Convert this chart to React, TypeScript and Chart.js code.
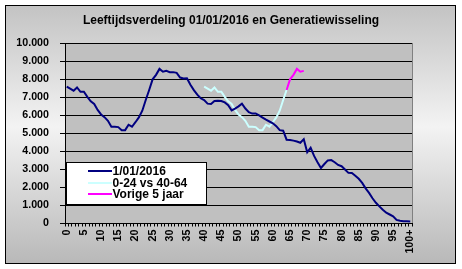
import React, { useEffect, useRef } from 'react';
import { Chart, registerables } from 'chart.js';

Chart.register(...registerables);

const TITLE = 'Leeftijdsverdeling 01/01/2016 en Generatiewisseling';

const AGE_LABELS: string[] = Array.from({ length: 100 }, (_, i) => String(i)).concat('100+');

const LABEL_2016 = '1/01/2016';
const POPULATION_2016 = [
  7590, 7480, 7370, 7550, 7310, 7310, 7030, 6780, 6630, 6300,
  6050, 5900, 5700, 5370, 5370, 5350, 5180, 5180, 5480, 5370,
  5620, 5890, 6260, 6850, 7410, 8000, 8250, 8580, 8420, 8470,
  8400, 8400, 8360, 8100, 8050, 8060, 7700, 7400, 7150, 6950,
  6850, 6650, 6630, 6800, 6810, 6800, 6720, 6570, 6280, 6380,
  6500, 6650, 6380, 6180, 6100, 6110, 6000, 5880, 5760, 5660,
  5560, 5400, 5180, 5150, 4650, 4630, 4600, 4550, 4480, 4680,
  3950, 4200, 3750, 3400, 3080, 3300, 3500, 3520, 3400, 3250,
  3180, 3000, 2810, 2800, 2650, 2480, 2250, 1950, 1700, 1400,
  1150, 950, 760, 600, 500, 400, 200, 150, 130, 120, 110,
];

const LABEL_GENERATION = '0-24 vs 40-64';
const GENERATION_START_AGE = 40;
const GENERATION_VALUES = [
  7590, 7480, 7370, 7550, 7310, 7310, 7030, 6780, 6630, 6300,
  6050, 5900, 5700, 5370, 5370, 5350, 5180, 5180, 5480, 5370,
  5620, 5890, 6260, 6850, 7410,
];

const LABEL_PREVIOUS = 'Vorige 5 jaar';
const PREVIOUS_START_AGE = 64;
const PREVIOUS_VALUES = [7410, 8000, 8250, 8580, 8420, 8470];

const Y_MIN = 0;
const Y_MAX = 10000;
const Y_STEP = 1000;
const X_LABEL_EVERY = 5;

const FONT = "'Liberation Sans', Arial, Helvetica, sans-serif";

function placeAt(values: number[], start: number, total: number): (number | null)[] {
  const out: (number | null)[] = new Array(total).fill(null);
  values.forEach((v, i) => {
    out[start + i] = v;
  });
  return out;
}

function formatThousands(v: number): string {
  return String(v).replace(/\B(?=(\d{3})+(?!\d))/g, '.');
}

const panelPlugin = {
  id: 'panel',
  beforeDraw(chart: any) {
    const { ctx, chartArea, width, height } = chart;
    ctx.save();
    ctx.fillStyle = '#ffffff';
    ctx.fillRect(0, 0, width, height);
    const g = ctx.createLinearGradient(0, 5, 0, 264);
    g.addColorStop(0, '#c3c3c3');
    g.addColorStop(0.47, '#f3f3f3');
    g.addColorStop(1, '#b8b8b8');
    ctx.fillStyle = g;
    ctx.fillRect(5.5, 5.5, 450, 258);
    ctx.strokeStyle = '#000000';
    ctx.lineWidth = 1;
    ctx.strokeRect(5.5, 5.5, 450, 258);
    ctx.fillStyle = '#c0c0c0';
    ctx.fillRect(chartArea.left, chartArea.top, chartArea.right - chartArea.left, chartArea.bottom - chartArea.top);
    ctx.strokeStyle = '#808080';
    ctx.strokeRect(
      Math.round(chartArea.left) + 0.5,
      Math.round(chartArea.top) + 0.5,
      Math.round(chartArea.right - chartArea.left),
      Math.round(chartArea.bottom - chartArea.top)
    );
    ctx.restore();
  },
};

const legendBoxPlugin = {
  id: 'legendBox',
  afterDraw(chart: any) {
    const { ctx, chartArea } = chart;
    const left = Math.round(chartArea.left) + 1.5;
    const top = Math.round(chartArea.bottom) - 61.5;
    const w = 140;
    const h = 42;
    ctx.save();
    ctx.fillStyle = '#ffffff';
    ctx.fillRect(left, top, w, h);
    ctx.strokeStyle = '#000000';
    ctx.lineWidth = 1;
    ctx.strokeRect(left, top, w, h);
    ctx.font = `bold 12px ${FONT}`;
    ctx.textBaseline = 'middle';
    ctx.textAlign = 'left';
    chart.data.datasets.forEach((ds: any, i: number) => {
      const y = Math.round(top + 8.5 + i * 11.5);
      ctx.strokeStyle = ds.borderColor;
      ctx.lineWidth = 2;
      ctx.beginPath();
      ctx.moveTo(left + 21.5, y);
      ctx.lineTo(left + 45.5, y);
      ctx.stroke();
      ctx.fillStyle = '#000000';
      ctx.fillText(ds.label, left + 46, y + 0.5);
    });
    ctx.restore();
  },
};

export default function App() {
  const canvasRef = useRef<HTMLCanvasElement | null>(null);

  useEffect(() => {
    document.body.style.margin = '0';
    const canvas = canvasRef.current;
    if (!canvas) return;
    const total = AGE_LABELS.length;
    const chart = new Chart(canvas, {
      type: 'line',
      data: {
        labels: AGE_LABELS,
        datasets: [
          {
            label: LABEL_2016,
            data: POPULATION_2016,
            borderColor: '#000080',
            borderWidth: 2,
            pointRadius: 0,
            tension: 0,
          },
          {
            label: LABEL_GENERATION,
            data: placeAt(GENERATION_VALUES, GENERATION_START_AGE, total),
            borderColor: '#ccffff',
            borderWidth: 2,
            pointRadius: 0,
            tension: 0,
          },
          {
            label: LABEL_PREVIOUS,
            data: placeAt(PREVIOUS_VALUES, PREVIOUS_START_AGE, total),
            borderColor: '#ff00ff',
            borderWidth: 2,
            pointRadius: 0,
            tension: 0,
          },
        ],
      },
      options: {
        responsive: false,
        animation: false,
        devicePixelRatio: 1,
        layout: { padding: { left: 0, right: 0, top: 0, bottom: 0 } },
        plugins: {
          legend: { display: false },
          tooltip: { enabled: false },
          title: {
            display: true,
            text: TITLE,
            color: '#000000',
            font: { family: FONT, size: 12, weight: 'bold' },
            padding: { top: 13.5, bottom: 15.4 },
          },
        },
        scales: {
          x: {
            type: 'category',
            offset: true,
            afterFit: (scale: any) => {
              scale.height = 45.5;
            },
            grid: {
              display: true,
              drawOnChartArea: false,
              drawTicks: true,
              tickLength: 3,
              offset: true,
              color: '#000000',
            },
            border: { display: true, color: '#000000', width: 1 },
            ticks: {
              autoSkip: false,
              minRotation: 90,
              maxRotation: 90,
              padding: 3,
              color: '#000000',
              font: { family: FONT, size: 10.7, weight: 'bold' },
              callback: (_v: any, index: number) =>
                index % X_LABEL_EVERY === 0 ? AGE_LABELS[index] : '',
            },
          },
          y: {
            min: Y_MIN,
            max: Y_MAX,
            afterFit: (scale: any) => {
              scale.width = 65;
            },
            grid: {
              color: '#000000',
              lineWidth: 1,
              drawTicks: true,
              tickLength: 5,
            },
            border: { display: true, color: '#000000', width: 1 },
            ticks: {
              stepSize: Y_STEP,
              padding: 11,
              color: '#000000',
              font: { family: FONT, size: 10.7, weight: 'bold' },
              callback: (v: any) => formatThousands(Number(v)),
            },
          },
          yRightSpace: {
            type: 'linear',
            position: 'right',
            display: true,
            afterFit: (scale: any) => {
              scale.width = 50;
            },
            grid: { display: false, drawOnChartArea: false, drawTicks: false },
            border: { display: false },
            ticks: { display: false },
          },
        },
      },
      plugins: [panelPlugin, legendBoxPlugin],
    });
    return () => chart.destroy();
  }, []);

  return (
    <div style={{ width: 462, height: 269, position: 'relative' }}>
      <canvas ref={canvasRef} width={462} height={269} style={{ display: 'block' }} />
    </div>
  );
}
